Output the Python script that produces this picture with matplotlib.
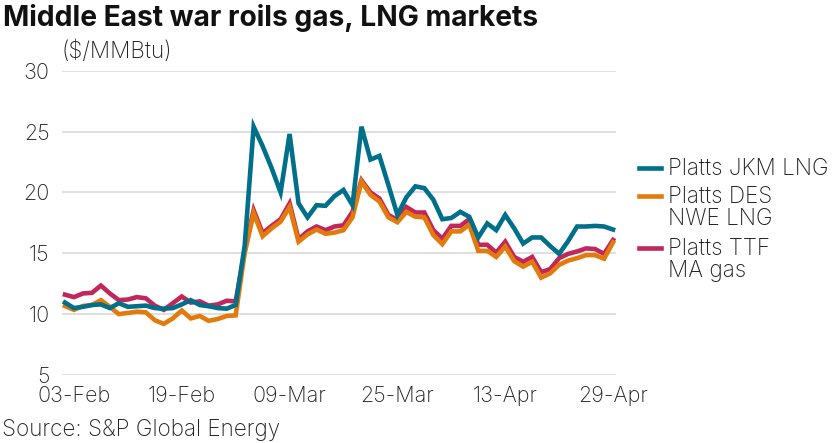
import numpy as np
import matplotlib
matplotlib.use("Agg")
import matplotlib.pyplot as plt
from matplotlib.lines import Line2D

plt.rcParams['font.family'] = ['Inter', 'DejaVu Sans']

# daily assessments, 02-Feb .. 29-Apr (business days)
jkm = [10.95, 10.5, 10.6, 10.75, 10.8, 10.5, 10.9, 10.6, 10.65, 10.7,
       10.5, 10.45, 10.5, 10.8, 11.15, 10.75, 10.65, 10.5, 10.45, 10.75,
       15.6, 25.4, 23.8, 22.0, 20.0, 24.8, 19.1, 17.95, 18.95, 18.9,
       19.7, 20.2, 18.95, 25.4, 22.7, 23.0, 20.6, 18.15, 19.6, 20.5,
       20.35, 19.4, 17.8, 17.9, 18.4, 18.0, 16.3, 17.45, 16.9, 18.15,
       17.05, 15.8, 16.3, 16.3, 15.6, 14.95, 16.0, 17.2, 17.2, 17.25,
       17.2, 16.95]
des = [10.67, 10.35, 10.67, 10.75, 11.15, 10.6, 10.0, 10.1, 10.2, 10.15,
       9.5, 9.2, 9.65, 10.3, 9.65, 9.85, 9.45, 9.6, 9.85, 9.9,
       15.0, 18.3, 16.4, 17.05, 17.6, 18.8, 15.95, 16.55, 16.95, 16.6,
       16.7, 16.9, 17.95, 20.9, 19.8, 19.25, 17.95, 17.55, 18.4, 18.0,
       17.95, 16.5, 15.75, 16.8, 16.8, 17.35, 15.2, 15.2, 14.7, 15.55,
       14.35, 13.9, 14.3, 13.0, 13.35, 14.05, 14.4, 14.6, 14.85, 14.85,
       14.55, 15.9]
ttf = [11.6, 11.4, 11.7, 11.75, 12.35, 11.7, 11.15, 11.2, 11.4, 11.3,
       10.7, 10.35, 10.9, 11.45, 10.95, 11.05, 10.7, 10.8, 11.1, 11.05,
       15.2, 18.55, 16.65, 17.25, 17.8, 19.1, 16.15, 16.8, 17.2, 16.9,
       17.2, 17.3, 18.4, 21.0, 20.0, 19.5, 18.15, 17.75, 18.8, 18.35,
       18.35, 16.9, 16.2, 17.25, 17.25, 17.8, 15.7, 15.7, 15.05, 15.95,
       14.7, 14.3, 14.7, 13.45, 13.7, 14.6, 14.95, 15.15, 15.4, 15.35,
       14.95, 16.1]

tick_pos = [1, 13, 25, 37, 49, 61]
tick_labels = ['03-Feb', '19-Feb', '09-Mar', '25-Mar', '13-Apr', '29-Apr']
y_ticks = [5, 10, 15, 20, 25, 30]

names = ['Platts JKM LNG', 'Platts DES\nNWE LNG', 'Platts TTF\nMA gas']
colors = ['#00708A', '#E27B0C', '#C1275A']

text_col = '#222222'
fs = 15.5
fs2 = 16.2

fig = plt.figure(figsize=(8.4, 4.43), dpi=100)
ax = fig.add_axes([62/840, 1 - 375/443, (616 - 62)/840, (375 - 70.7)/443])

x = np.arange(len(jkm))
# draw order: TTF under DES under JKM
ax.plot(x, ttf, color=colors[2], lw=3.3, solid_joinstyle='miter', zorder=3)
ax.plot(x, des, color=colors[1], lw=3.3, solid_joinstyle='miter', zorder=4)
ax.plot(x, jkm, color=colors[0], lw=3.3, solid_joinstyle='miter', zorder=5)

ax.set_xlim(-0.33, len(jkm) - 1 + 0.33)
ax.set_ylim(5, 30)
ax.set_yticks(y_ticks)
ax.set_xticks(tick_pos)
ax.set_xticklabels(tick_labels)
ax.grid(axis='y', color='#d9d9d9', lw=1.2)
ax.set_axisbelow(True)
for s in ax.spines.values():
    s.set_visible(False)
ax.tick_params(axis='both', length=0, labelsize=fs, colors=text_col)
ax.tick_params(axis='y', pad=9)
ax.tick_params(axis='x', pad=8)
for lab in ax.get_xticklabels() + ax.get_yticklabels():
    lab.set_fontweight('light')

fig.text(3/840, 1 - 18/443, 'Middle East war roils gas, LNG markets',
         fontsize=20.3, fontweight='bold', color='#111111', va='center', ha='left')
fig.text(62/840, 1 - 52/443, '($/MMBtu)', fontsize=fs2, color=text_col,
         va='center', ha='left', fontweight='light')
fig.text(2/840, 1 - 430/443, 'Source: S&P Global Energy', fontsize=fs2,
         color=text_col, va='center', ha='left', fontweight='light')

# legend, handle aligned to first line of each label
leg_y = [168, 196, 248]
for name, c, yy in zip(names, colors, leg_y):
    yf = 1 - yy/443
    fig.add_artist(Line2D([639/840, 661/840], [yf, yf], color=c, lw=3.3,
                          transform=fig.transFigure))
    fig.text(668/840, yf + 10/443, name, fontsize=fs2, color=text_col,
             va='top', ha='left', linespacing=1.0, fontweight='light')

fig.savefig('out.png', dpi=100)
